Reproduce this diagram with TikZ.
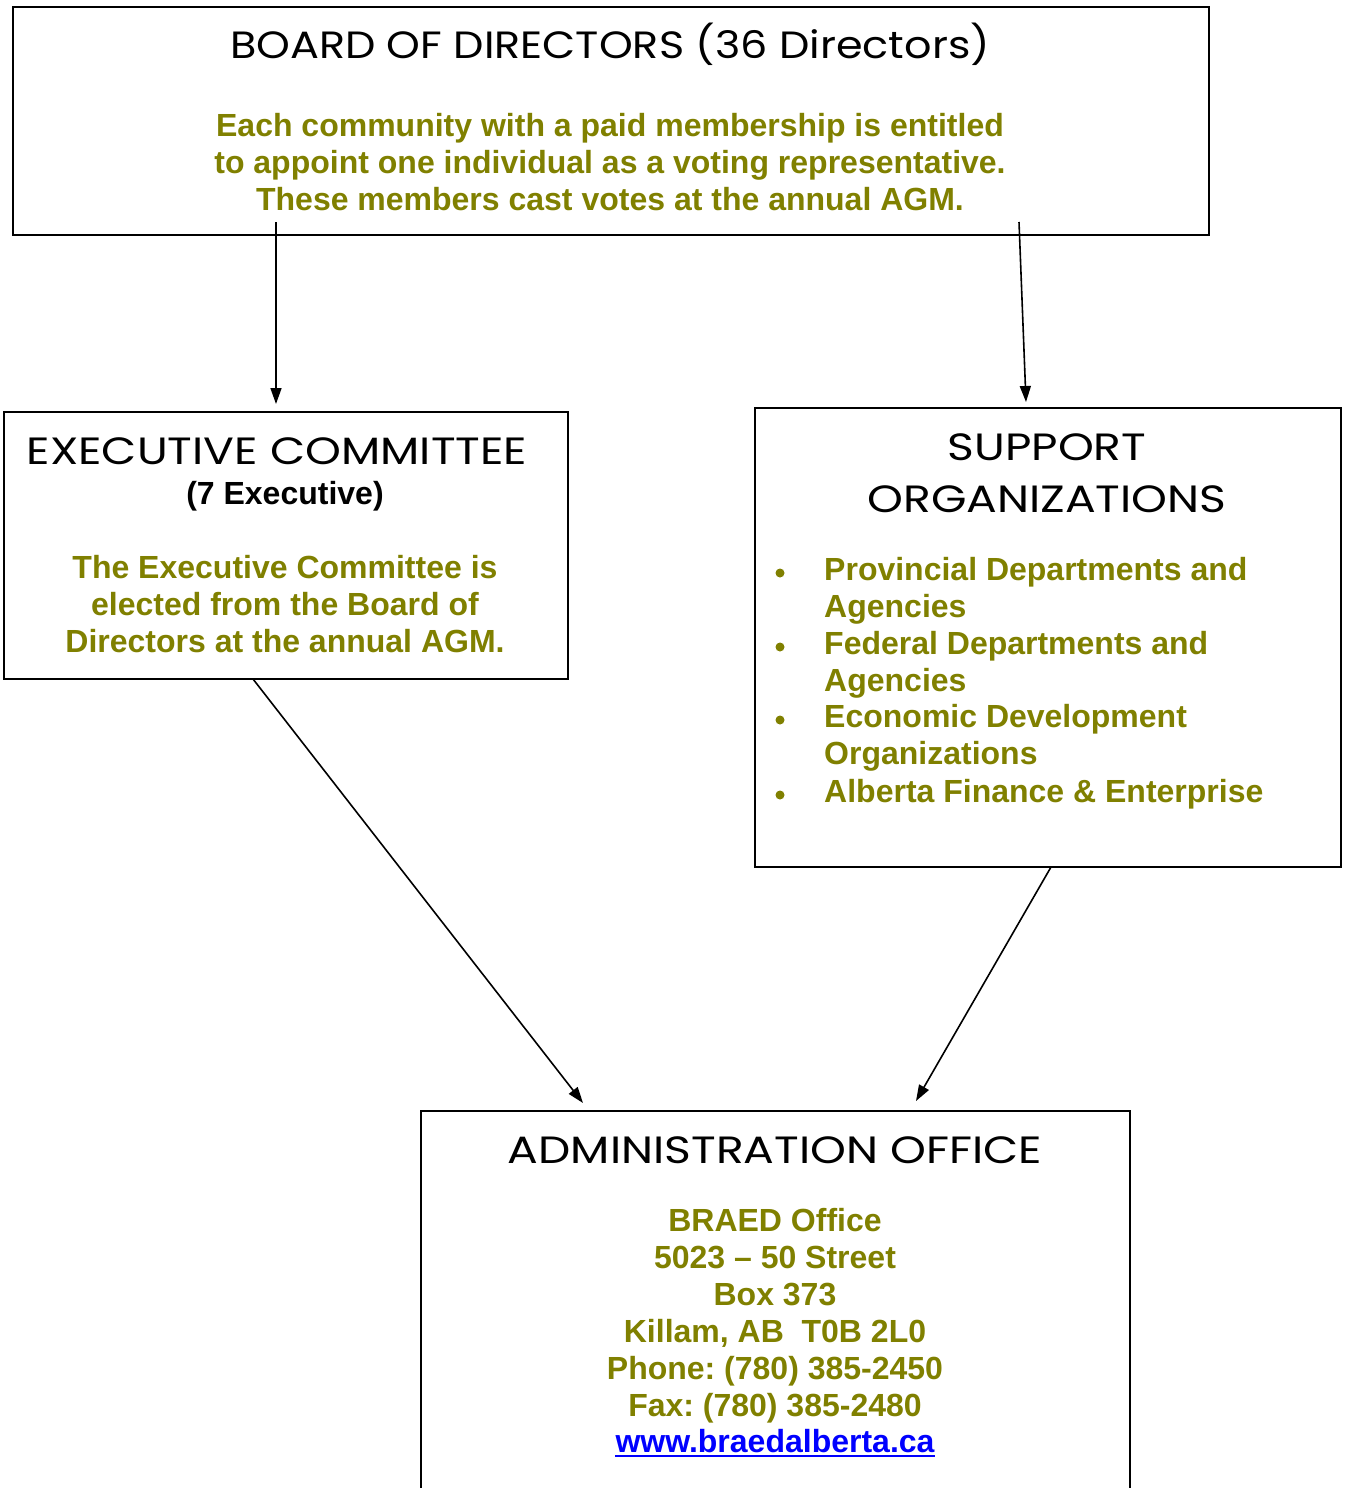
\documentclass[tikz,border=0pt]{standalone}
\usepackage{fontspec}
\setmainfont{Liberation Sans}
\newfontfamily\headfont[FakeStretch=1.2]{Poppins}
\newfontfamily\boardfont[FakeStretch=1.13]{Poppins}
\usetikzlibrary{arrows.meta}
\definecolor{myolive}{HTML}{808000}
\definecolor{linkblue}{HTML}{0000FF}
\frenchspacing
\tikzset{
  boxnode/.style={draw=black, line width=1.8pt, inner sep=0pt, anchor=north west},
  headtxt/.style={inner sep=0pt, anchor=base, font=\headfont\fontsize{38}{42}\selectfont, text=black},
  bodytxt/.style={inner sep=0pt, align=center, font=\bfseries\fontsize{32}{37}\selectfont, text=myolive},
  itemtxt/.style={inner sep=0pt, anchor=base west, font=\bfseries\fontsize{32}{37}\selectfont, text=myolive},
  bulletdot/.style={circle, fill=myolive, inner sep=0pt, minimum size=9pt},
  conn/.style={line width=1.6pt, -{Triangle[length=16pt,width=11pt]}}
}
\begin{document}
\begin{tikzpicture}[x=1pt,y=-1pt]
\useasboundingbox (0,0) rectangle (1348,1488);
\clip (0,0) rectangle (1348,1488);

% boxes
\node[boxnode, minimum width=1196pt, minimum height=228pt] (board) at (12,6) {};
\node[boxnode, minimum width=564pt, minimum height=267pt] (exec) at (3,411) {};
\node[boxnode, minimum width=586pt, minimum height=459pt] (supp) at (754,407) {};
\node[boxnode, minimum width=709pt, minimum height=420pt] (admin) at (420,1110) {};

% board text
\node[headtxt, font=\boardfont\fontsize{38}{42}\selectfont] (boardh) at (610,59) {BOARD OF DIRECTORS (36 Directors)};
\node[bodytxt, anchor=north] (boardb) at (610,113) {Each community with a paid membership is entitled\\to appoint one individual as a voting representative.\\These members cast votes at the annual AGM.};

% executive text
\node[headtxt] (exech) at (277,464) {EXECUTIVE COMMITTEE};
\node[bodytxt, text=black, anchor=base] (execs) at (285,504) {(7 Executive)};
\node[bodytxt, anchor=north] (execb) at (285,555) {The Executive Committee is\\elected from the Board of\\Directors at the annual AGM.};

% support text
\node[headtxt] (supph1) at (1047,460) {SUPPORT};
\node[headtxt] (supph2) at (1047,512) {ORGANIZATIONS};
\node[itemtxt] (i1a) at (824,580) {Provincial Departments and};
\node[itemtxt] (i1b) at (824,617) {Agencies};
\node[itemtxt] (i2a) at (824,654) {Federal Departments and};
\node[itemtxt] (i2b) at (824,691) {Agencies};
\node[itemtxt] (i3a) at (824,727) {Economic Development};
\node[itemtxt] (i3b) at (824,764) {Organizations};
\node[itemtxt] (i4a) at (824,802) {Alberta Finance \& Enterprise};
\node[bulletdot] (b1) at (780,573) {};
\node[bulletdot] (b2) at (780,647) {};
\node[bulletdot] (b3) at (780,720) {};
\node[bulletdot] (b4) at (780,795) {};

% admin text
\node[headtxt] (adminh) at (775,1163) {ADMINISTRATION OFFICE};
\node[bodytxt, anchor=north] (adminb) at (775,1208) {BRAED Office\\5023 -- 50 Street\\Box 373\\Killam, AB\ \ T0B 2L0\\Phone: (780) 385-2450\\Fax: (780) 385-2480};
\node[bodytxt, text=linkblue, anchor=base] (link) at (775,1452) {www.braedalberta.ca};
\draw[linkblue, line width=2.6pt] ([yshift=-4pt]link.base west) -- ([yshift=-4pt]link.base east);

% connectors
\coordinate (s1) at (276,222);
\coordinate (t1) at (276,404);
\coordinate (s2) at (1019,222);
\coordinate (t2) at (1026,402);
\coordinate (s3) at (253,679);
\coordinate (t3) at (583,1103);
\coordinate (s4) at (1051,867);
\coordinate (t4) at (916,1101);
\draw[conn] (s1) -- (t1);
\draw[conn] (s2) -- (t2);
\draw[conn] (s3) -- (t3);
\draw[conn] (s4) -- (t4);
\end{tikzpicture}
\end{document}
